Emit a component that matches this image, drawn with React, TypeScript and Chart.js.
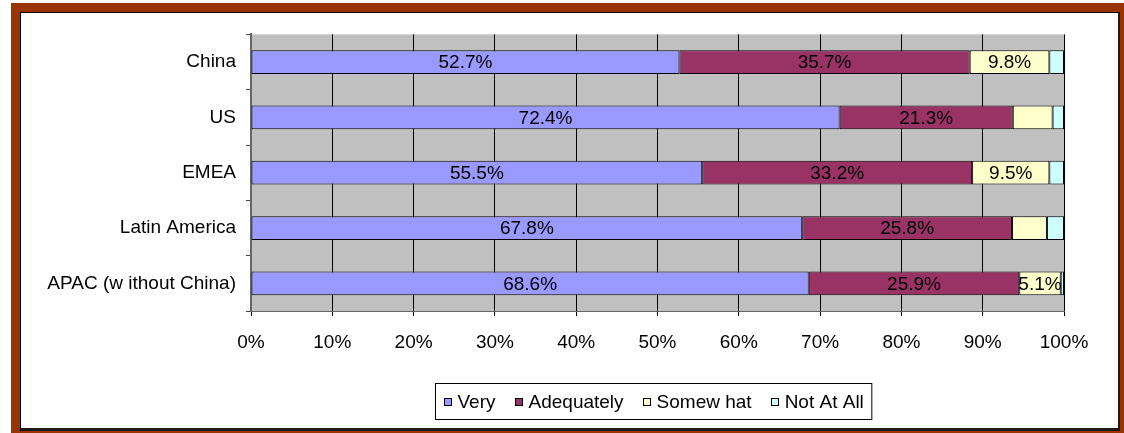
import React, { useEffect, useRef } from "react";
import { Chart, registerables } from "chart.js";

Chart.register(...registerables);

const categories = ["China", "US", "EMEA", "Latin America", "APAC (w ithout China)"];
const seriesNames = ["Very", "Adequately", "Somew hat", "Not At All"];
const veryValues = [52.7, 72.4, 55.5, 67.8, 68.6];
const adequatelyValues = [35.7, 21.3, 33.2, 25.8, 25.9];
const somewhatValues = [9.8, 4.9, 9.5, 4.3, 5.1];
const notAtAllValues = [1.8, 1.4, 1.8, 2.1, 0.4];
const xTickValues = [0, 10, 20, 30, 40, 50, 60, 70, 80, 90, 100];

const seriesColors = ["#9999FF", "#993366", "#FFFFCC", "#CCFFFF"];
const FONT = "'Liberation Sans', Arial, sans-serif";
const FONT_SIZE = 19;
const LABEL_MIN = 5;

const plotBg = {
  id: "plotBg",
  beforeDraw(chart: any) {
    const { ctx, chartArea } = chart;
    ctx.save();
    ctx.fillStyle = "#C0C0C0";
    ctx.fillRect(chartArea.left, chartArea.top, chartArea.right - chartArea.left, chartArea.bottom - chartArea.top);
    ctx.restore();
  },
};

const valueLabels = {
  id: "valueLabels",
  afterDatasetsDraw(chart: any) {
    const { ctx } = chart;
    ctx.save();
    ctx.font = `${FONT_SIZE}px ${FONT}`;
    ctx.fillStyle = "#000";
    ctx.textAlign = "center";
    ctx.textBaseline = "middle";
    chart.data.datasets.forEach((ds: any, di: number) => {
      const meta = chart.getDatasetMeta(di);
      meta.data.forEach((el: any, i: number) => {
        const v = ds.data[i];
        if (v < LABEL_MIN) return;
        const cx = (el.x + el.base) / 2;
        ctx.fillText(`${v.toFixed(1)}%`, cx, el.y + 1);
      });
    });
    ctx.restore();
  },
};

const boxLegend = {
  id: "boxLegend",
  afterDraw(chart: any) {
    const { ctx, chartArea } = chart;
    ctx.save();
    ctx.font = `${FONT_SIZE}px ${FONT}`;
    const marker = 8;
    const mGap = 6;
    const gap = 19;
    const pad = 8;
    const widths = seriesNames.map((n) => marker + mGap + ctx.measureText(n).width);
    const total = widths.reduce((a, b) => a + b, 0) + gap * (widths.length - 1);
    const boxW = total + pad * 2;
    const boxH = 36;
    const cx = (chartArea.left + chartArea.right) / 2 - 4;
    const boxX = Math.round(cx - boxW / 2) + 0.5;
    const boxY = 370.5;
    ctx.strokeStyle = "#000";
    ctx.lineWidth = 1;
    ctx.strokeRect(boxX, boxY, boxW, boxH);
    let x = boxX + pad;
    const cy = boxY + boxH / 2;
    ctx.textBaseline = "middle";
    ctx.textAlign = "left";
    seriesNames.forEach((n, i) => {
      ctx.fillStyle = seriesColors[i];
      ctx.fillRect(Math.round(x), Math.round(cy - marker / 2), marker, marker);
      ctx.strokeRect(Math.round(x) + 0.5, Math.round(cy - marker / 2) + 0.5, marker - 1, marker - 1);
      ctx.fillStyle = "#000";
      ctx.fillText(n, x + marker + mGap, cy + 1);
      x += widths[i] + gap;
    });
    ctx.restore();
  },
};

export default function App() {
  const ref = useRef<HTMLCanvasElement>(null);
  useEffect(() => {
    if (!ref.current) return;
    const chart = new Chart(ref.current, {
      type: "bar",
      data: {
        labels: categories,
        datasets: [veryValues, adequatelyValues, somewhatValues, notAtAllValues].map((d, i) => ({
          label: seriesNames[i],
          data: d,
          backgroundColor: seriesColors[i],
          borderColor: "#000",
          borderWidth: 1,
          borderSkipped: false,
          categoryPercentage: 1,
          barPercentage: 0.43,
        })),
      },
      options: {
        indexAxis: "y",
        responsive: false,
        animation: false,
        layout: { padding: { left: 0, right: 54, top: 19, bottom: 0 } },
        plugins: { legend: { display: false }, tooltip: { enabled: false } },
        scales: {
          x: {
            stacked: true,
            min: 0,
            max: 100,
            afterBuildTicks: (s: any) => {
              s.ticks = xTickValues.map((v) => ({ value: v }));
            },
            afterFit: (s: any) => {
              s.height = 117;
            },
            ticks: {
              callback: (v: any) => `${v}%`,
              color: "#000",
              font: { family: FONT, size: FONT_SIZE },
              padding: 15,
              maxRotation: 0,
            },
            grid: { color: "#000", lineWidth: 1, tickLength: 5, drawTicks: true },
            border: { color: "#666", width: 1 },
          },
          y: {
            stacked: true,
            afterFit: (s: any) => {
              s.width = 230;
            },
            ticks: {
              color: "#000",
              font: { family: FONT, size: FONT_SIZE },
              padding: 10,
            },
            grid: { offset: true, drawOnChartArea: false, drawTicks: true, tickLength: 5, color: "#444" },
            border: { color: "#666", width: 2 },
          },
        },
      },
      plugins: [plotBg, valueLabels, boxLegend],
    } as any);
    return () => chart.destroy();
  }, []);

  return (
    <div style={{ position: "absolute", left: 0, top: 0, width: 1124, height: 433, overflow: "hidden" }}>
      <div
        style={{
          position: "absolute",
          left: 11,
          top: 3,
          width: 1118,
          height: 437,
          boxSizing: "border-box",
          border: "9px solid #993300",
          background: "#993300",
        }}
      >
        <div
          style={{
            position: "absolute",
            left: 0,
            top: 0,
            width: 1100,
            height: 419,
            boxSizing: "border-box",
            borderTop: "1px solid #000",
            borderLeft: "1px solid #000",
            borderRight: "2px solid #1a1a1a",
            borderBottom: "3px solid #1a1a1a",
            background: "#fff",
          }}
        >
          <canvas ref={ref} width={1097} height={415} style={{ display: "block" }} />
        </div>
      </div>
    </div>
  );
}
